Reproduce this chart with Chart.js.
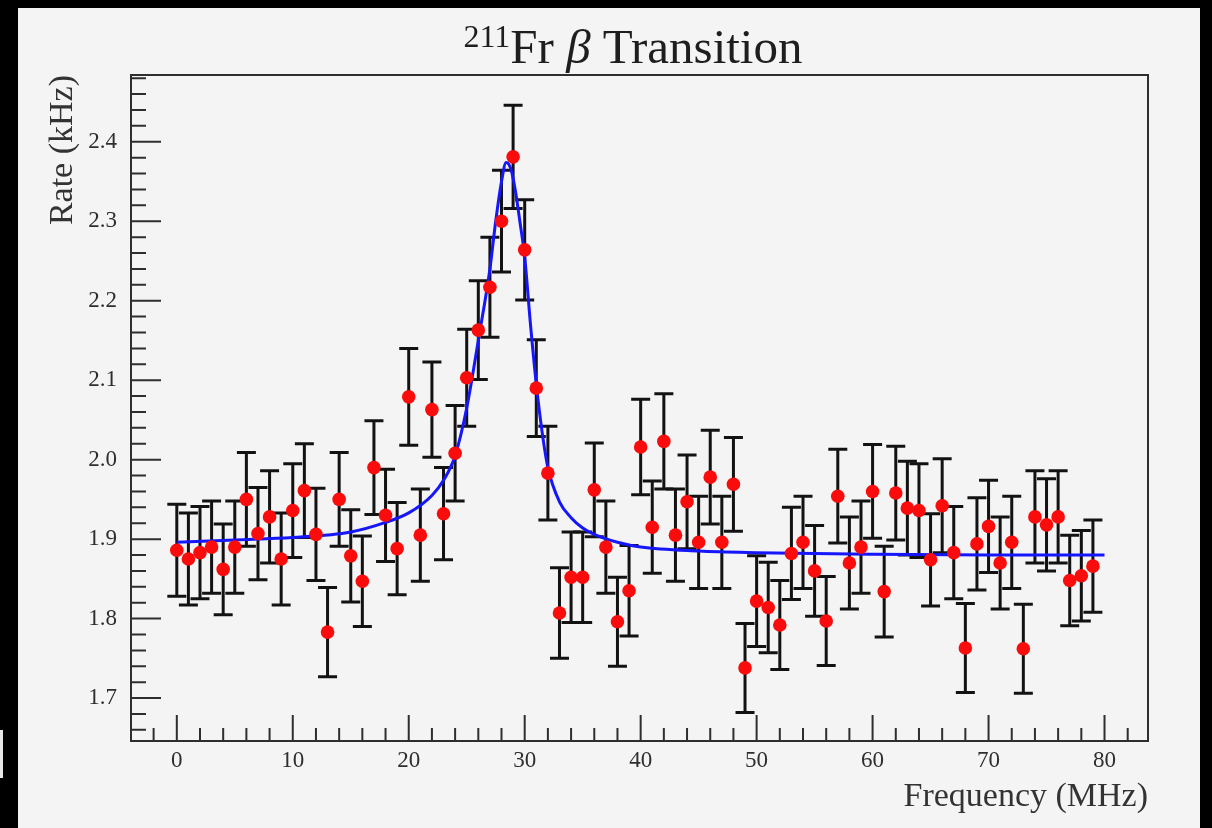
<!DOCTYPE html>
<html>
<head>
<meta charset="utf-8">
<script src="https://cdn.jsdelivr.net/npm/chart.js@4.4.1/dist/chart.umd.min.js"></script>
<style>
  html, body { margin: 0; padding: 0; background: #000; }
  #wrap { position: relative; width: 1212px; height: 828px; }
  canvas { display: block; }
  .nick { position: absolute; left: 0; top: 730px; width: 3px; height: 48px; background: #e8e8e8; }
</style>
</head>
<body>
<div id="wrap">
  <canvas id="myChart" width="1212" height="828"></canvas>
  <div class="nick"></div>
</div>
<script>
// measured points (frequency in MHz, rate in kHz)
const freq = [];
for (let i = 0; i < 80; i++) freq.push(i);
const rate = [
  1.886, 1.875, 1.883, 1.890, 1.862, 1.890, 1.950, 1.907, 1.928, 1.875,
  1.936, 1.961, 1.906, 1.783, 1.950, 1.879, 1.847, 1.990, 1.930, 1.888,
  2.079, 1.905, 2.063, 1.932, 2.008, 2.103, 2.163, 2.217, 2.300, 2.381,
  2.264, 2.090, 1.983, 1.807, 1.852, 1.852, 1.962, 1.890, 1.796, 1.835,
  2.016, 1.915, 2.023, 1.905, 1.947, 1.896, 1.978, 1.896, 1.969, 1.738,
  1.822, 1.814, 1.792, 1.882, 1.896, 1.860, 1.797, 1.954, 1.870, 1.890,
  1.960, 1.834, 1.958, 1.939, 1.936, 1.874, 1.942, 1.883, 1.763, 1.894,
  1.916, 1.870, 1.896, 1.762, 1.928, 1.918, 1.928, 1.848, 1.854, 1.866
];
const rateErr = [
  0.058, 0.058, 0.058, 0.058, 0.057, 0.058, 0.059, 0.058, 0.058, 0.058,
  0.059, 0.059, 0.058, 0.056, 0.059, 0.058, 0.057, 0.059, 0.058, 0.058,
  0.061, 0.058, 0.060, 0.058, 0.060, 0.061, 0.062, 0.063, 0.064, 0.065,
  0.063, 0.061, 0.059, 0.057, 0.057, 0.057, 0.059, 0.058, 0.056, 0.057,
  0.060, 0.058, 0.060, 0.058, 0.059, 0.058, 0.059, 0.058, 0.059, 0.056,
  0.057, 0.057, 0.056, 0.058, 0.058, 0.057, 0.056, 0.059, 0.058, 0.058,
  0.059, 0.057, 0.059, 0.059, 0.059, 0.058, 0.059, 0.058, 0.056, 0.058,
  0.058, 0.058, 0.058, 0.056, 0.058, 0.058, 0.058, 0.057, 0.057, 0.058
];

// fitted curve
const fitFreq = [0, 5, 10, 15, 18, 20, 22, 23, 24, 25, 26, 27, 27.5, 28, 28.4, 28.8, 29.2, 29.6,
  30, 30.5, 31, 31.5, 32, 33, 34, 35, 36, 38, 40, 45, 50, 60, 70, 80];
const fitRate = [1.896, 1.899, 1.902, 1.909, 1.921, 1.933, 1.955, 1.974, 2.005, 2.065, 2.150, 2.240,
  2.300, 2.350, 2.374, 2.366, 2.338, 2.298, 2.255, 2.170, 2.095, 2.035, 1.990, 1.947, 1.927, 1.914,
  1.906, 1.896, 1.890, 1.885, 1.883, 1.881, 1.880, 1.880];

// axes
const xMajor = [0, 10, 20, 30, 40, 50, 60, 70, 80];
const yMajor = [1.7, 1.8, 1.9, 2.0, 2.1, 2.2, 2.3, 2.4];

const serif = "'Liberation Serif', 'DejaVu Serif', serif";
const ink = "#2e2e2e";

const rootStyle = {
  id: "rootStyle",
  beforeDraw(chart) {
    const ctx = chart.ctx;
    ctx.save();
    ctx.fillStyle = "#000";
    ctx.fillRect(0, 0, chart.width, chart.height);
    ctx.fillStyle = "#f3f4f3";
    ctx.fillRect(18, 8, 1182, 820);
    ctx.restore();
  },
  beforeDatasetsDraw(chart) {
    // error bars
    const ctx = chart.ctx;
    const xs = chart.scales.x, ys = chart.scales.y;
    ctx.save();
    ctx.strokeStyle = "#121212";
    ctx.lineWidth = 3;
    for (let i = 0; i < freq.length; i++) {
      const px = xs.getPixelForValue(freq[i]);
      const top = ys.getPixelForValue(rate[i] + rateErr[i]);
      const bot = ys.getPixelForValue(rate[i] - rateErr[i]);
      ctx.beginPath();
      ctx.moveTo(px, top); ctx.lineTo(px, bot);
      ctx.moveTo(px - 9.5, top); ctx.lineTo(px + 9.5, top);
      ctx.moveTo(px - 9.5, bot); ctx.lineTo(px + 9.5, bot);
      ctx.stroke();
    }
    ctx.restore();
  },
  afterDraw(chart) {
    const ctx = chart.ctx;
    const a = chart.chartArea;
    const xs = chart.scales.x, ys = chart.scales.y;
    ctx.save();
    // frame
    ctx.strokeStyle = ink;
    ctx.lineWidth = 2;
    ctx.strokeRect(a.left, a.top, a.right - a.left, a.bottom - a.top);
    // inward ticks
    ctx.beginPath();
    for (let v = -2; v <= 84; v += 2) {
      const px = xs.getPixelForValue(v);
      if (px <= a.left || px >= a.right) continue;
      const len = v % 10 === 0 ? 26 : 13;
      ctx.moveTo(px, a.bottom); ctx.lineTo(px, a.bottom - len);
    }
    for (let k = 83; k <= 124; k++) {
      const py = ys.getPixelForValue(k / 50);
      if (py <= a.top || py >= a.bottom) continue;
      const len = k % 5 === 0 ? 30 : 15;
      ctx.moveTo(a.left, py); ctx.lineTo(a.left + len, py);
    }
    ctx.stroke();

    // title
    ctx.fillStyle = "#1e1e1e";
    ctx.textBaseline = "alphabetic";
    ctx.textAlign = "left";
    const big = "49px " + serif, small = "32px " + serif, ital = "italic 49px " + serif;
    const parts = [["211", small, -16], ["Fr ", big, 0], ["\u03B2", ital, 0], [" Transition", big, 0]];
    let w = 0;
    parts.forEach(p => { ctx.font = p[1]; w += ctx.measureText(p[0]).width; });
    let x = 633 - w / 2;
    parts.forEach(p => {
      ctx.font = p[1];
      ctx.fillText(p[0], x, 63 + p[2]);
      x += ctx.measureText(p[0]).width;
    });

    // axis titles
    ctx.fillStyle = "#333";
    ctx.font = "34px " + serif;
    ctx.textAlign = "right";
    ctx.fillText("Frequency (MHz)", a.right, 806);
    ctx.translate(72, a.top);
    ctx.rotate(-Math.PI / 2);
    ctx.fillText("Rate (kHz)", 0, 0);
    ctx.restore();
  }
};

const ctx = document.getElementById("myChart").getContext("2d");
const chart = new Chart(ctx, {
  type: "scatter",
  data: {
    datasets: [
      {
        label: "data",
        data: freq.map((f, i) => ({ x: f, y: rate[i] })),
        pointRadius: 6.8,
        pointHoverRadius: 6.8,
        pointBackgroundColor: "rgb(250, 12, 12)",
        pointBorderWidth: 0,
        showLine: false,
        order: 0
      },
      {
        label: "fit",
        data: fitFreq.map((f, i) => ({ x: f, y: fitRate[i] })),
        showLine: true,
        pointRadius: 0,
        borderColor: "rgb(22, 22, 250)",
        borderWidth: 3,
        cubicInterpolationMode: "monotone",
        order: 1
      }
    ]
  },
  options: {
    responsive: false,
    animation: false,
    devicePixelRatio: 1,
    layout: { padding: { left: 0, right: 64, top: 75, bottom: 0 } },
    plugins: { legend: { display: false }, tooltip: { enabled: false }, title: { display: false } },
    scales: {
      x: {
        type: "linear",
        min: -3.95,
        max: 83.75,
        grid: { display: false, drawTicks: false },
        border: { display: false },
        afterBuildTicks: s => { s.ticks = xMajor.map(v => ({ value: v })); },
        afterFit: s => { s.height = 87; },
        ticks: {
          padding: 6,
          maxRotation: 0,
          color: ink,
          font: { family: serif, size: 23 },
          callback: v => String(v)
        }
      },
      y: {
        type: "linear",
        min: 1.646,
        max: 2.484,
        grid: { display: false, drawTicks: false },
        border: { display: false },
        afterBuildTicks: s => { s.ticks = yMajor.map(v => ({ value: v })); },
        afterFit: s => { s.width = 131; },
        ticks: {
          padding: 14,
          color: ink,
          font: { family: serif, size: 23 },
          callback: v => v.toFixed(1)
        }
      }
    }
  },
  plugins: [rootStyle]
});
</script>
</body>
</html>
